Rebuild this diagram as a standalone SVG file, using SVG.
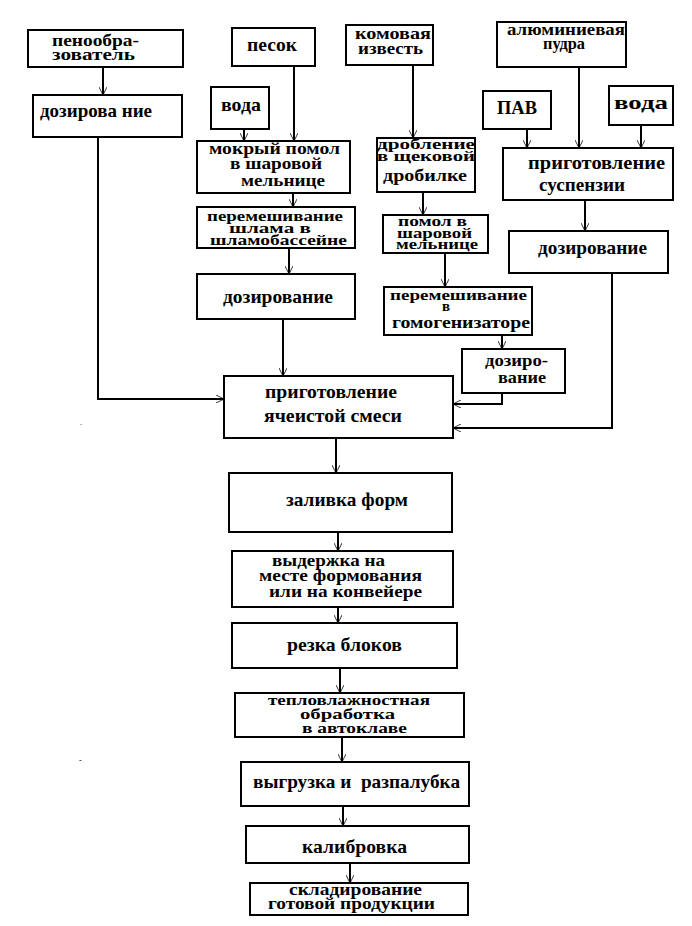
<svg xmlns="http://www.w3.org/2000/svg" width="692" height="926" viewBox="0 0 692 926">
<style>
.b{fill:#fff;stroke:#000;stroke-width:2}
.t{font-family:"Liberation Serif","Times New Roman",serif;font-weight:bold;font-size:19px;fill:#000}
.m{font-size:16px}
.s{font-size:15px}
.c{fill:none;stroke:#000;stroke-width:2}
</style>
<defs>
<marker id="a" viewBox="0 0 10 10" refX="10" refY="5" markerWidth="8" markerHeight="8" markerUnits="userSpaceOnUse" orient="auto">
<path d="M0,0 L10,5 L0,10" fill="none" stroke="#000" stroke-width="1"/>
</marker>
</defs>
<rect width="692" height="926" fill="#fff"/>
<g id="connectors">
<path class="c" d="M103,67 V95" marker-end="url(#a)"/>
<path class="c" d="M98,137 V399 H224" marker-end="url(#a)"/>
<path class="c" d="M244,129 V141" marker-end="url(#a)"/>
<path class="c" d="M294,66 V141" marker-end="url(#a)"/>
<path class="c" d="M293,193 V207" marker-end="url(#a)"/>
<path class="c" d="M289,248 V274" marker-end="url(#a)"/>
<path class="c" d="M283,319 V376" marker-end="url(#a)"/>
<path class="c" d="M413,65 V138" marker-end="url(#a)"/>
<path class="c" d="M423,192 V215" marker-end="url(#a)"/>
<path class="c" d="M445,253 V287" marker-end="url(#a)"/>
<path class="c" d="M502,335 V349" marker-end="url(#a)"/>
<path class="c" d="M502,393 V404 H453" marker-end="url(#a)"/>
<path class="c" d="M527,129 V148" marker-end="url(#a)"/>
<path class="c" d="M579,67 V148" marker-end="url(#a)"/>
<path class="c" d="M641,125 V148" marker-end="url(#a)"/>
<path class="c" d="M585,200 V231" marker-end="url(#a)"/>
<path class="c" d="M612,273 V428 H453" marker-end="url(#a)"/>
<path class="c" d="M336,438 V473" marker-end="url(#a)"/>
<path class="c" d="M338,532 V551" marker-end="url(#a)"/>
<path class="c" d="M338,607 V623" marker-end="url(#a)"/>
<path class="c" d="M340,668 V693" marker-end="url(#a)"/>
<path class="c" d="M342,737 V762" marker-end="url(#a)"/>
<path class="c" d="M343,806 V826" marker-end="url(#a)"/>
<path class="c" d="M350,863 V883" marker-end="url(#a)"/>
</g>
<g id="n_penoobr"><rect class="b" x="28" y="30" width="155" height="37"/>
<text class="t m" x="52" y="46" textLength="87" lengthAdjust="spacingAndGlyphs">пенообра-</text>
<text class="t m" x="52" y="60" textLength="83" lengthAdjust="spacingAndGlyphs">зователь</text></g>
<g id="n_doz1"><rect class="b" x="33" y="95" width="149" height="42"/>
<text class="t" x="40" y="117" textLength="112" lengthAdjust="spacingAndGlyphs" xml:space="preserve">дозирова ние</text></g>
<g id="n_pesok"><rect class="b" x="232" y="28" width="83" height="38"/>
<text class="t" x="247" y="51" textLength="50" lengthAdjust="spacingAndGlyphs">песок</text></g>
<g id="n_voda1"><rect class="b" x="211" y="87" width="58" height="42"/>
<text class="t" x="221" y="111" textLength="40" lengthAdjust="spacingAndGlyphs">вода</text></g>
<g id="n_pomol1"><rect class="b" x="197" y="141" width="153" height="52"/>
<text class="t m" x="209" y="154" textLength="131" lengthAdjust="spacingAndGlyphs">мокрый помол</text>
<text class="t m" x="230" y="169" textLength="92" lengthAdjust="spacingAndGlyphs">в шаровой</text>
<text class="t m" x="241" y="186" textLength="84" lengthAdjust="spacingAndGlyphs">мельнице</text></g>
<g id="n_shlam"><rect class="b" x="197" y="207" width="158" height="41"/>
<text class="t s" x="207" y="221" textLength="136" lengthAdjust="spacingAndGlyphs">перемешивание</text>
<text class="t s" x="229" y="233" textLength="82" lengthAdjust="spacingAndGlyphs">шлама в</text>
<text class="t s" x="210" y="245" textLength="137" lengthAdjust="spacingAndGlyphs">шламобассейне</text></g>
<g id="n_doz2"><rect class="b" x="197" y="274" width="158" height="45"/>
<text class="t" x="223" y="303" textLength="110" lengthAdjust="spacingAndGlyphs">дозирование</text></g>
<g id="n_izvest"><rect class="b" x="346" y="25" width="87" height="40"/>
<text class="t m" x="355" y="39" textLength="76" lengthAdjust="spacingAndGlyphs">комовая</text>
<text class="t m" x="358" y="54" textLength="65" lengthAdjust="spacingAndGlyphs">известь</text></g>
<g id="n_drob"><rect class="b" x="377" y="138" width="98" height="54"/>
<text class="t s" x="377" y="149" textLength="98" lengthAdjust="spacingAndGlyphs">дробление</text>
<text class="t s" x="377" y="161" textLength="98" lengthAdjust="spacingAndGlyphs">в щековой</text>
<text class="t m" x="383" y="181" textLength="84" lengthAdjust="spacingAndGlyphs">дробилке</text></g>
<g id="n_pomol2"><rect class="b" x="383" y="215" width="105" height="38"/>
<text class="t s" x="398" y="226" textLength="69" lengthAdjust="spacingAndGlyphs">помол в</text>
<text class="t s" x="397" y="238" textLength="75" lengthAdjust="spacingAndGlyphs">шаровой</text>
<text class="t s" x="396" y="249" textLength="82" lengthAdjust="spacingAndGlyphs">мельнице</text></g>
<g id="n_gomog"><rect class="b" x="384" y="287" width="148" height="48"/>
<text class="t s" x="390" y="300" textLength="137" lengthAdjust="spacingAndGlyphs">перемешивание</text>
<text class="t s" x="442" y="311">в</text>
<text class="t m" x="392" y="328" textLength="138" lengthAdjust="spacingAndGlyphs">гомогенизаторе</text></g>
<g id="n_doz3"><rect class="b" x="462" y="349" width="103" height="44"/>
<text class="t m" x="485" y="366" textLength="63" lengthAdjust="spacingAndGlyphs">дозиро-</text>
<text class="t m" x="498" y="383" textLength="48" lengthAdjust="spacingAndGlyphs">вание</text></g>
<g id="n_pudra"><rect class="b" x="497" y="22" width="129" height="45"/>
<text class="t m" x="507" y="35" textLength="118" lengthAdjust="spacingAndGlyphs">алюминиевая</text>
<text class="t m" x="543" y="49" textLength="42" lengthAdjust="spacingAndGlyphs">пудра</text></g>
<g id="n_pav"><rect class="b" x="483" y="91" width="68" height="38"/>
<text class="t" x="497" y="114" textLength="40" lengthAdjust="spacingAndGlyphs">ПАВ</text></g>
<g id="n_voda2"><rect class="b" x="609" y="86" width="64" height="39"/>
<text class="t" x="614" y="109" textLength="54" lengthAdjust="spacingAndGlyphs">вода</text></g>
<g id="n_susp"><rect class="b" x="503" y="148" width="170" height="52"/>
<text class="t" x="528" y="169" textLength="137" lengthAdjust="spacingAndGlyphs">приготовление</text>
<text class="t" x="539" y="191" textLength="86" lengthAdjust="spacingAndGlyphs">суспензии</text></g>
<g id="n_doz4"><rect class="b" x="509" y="231" width="159" height="42"/>
<text class="t" x="538" y="254" textLength="109" lengthAdjust="spacingAndGlyphs">дозирование</text></g>
<g id="n_smes"><rect class="b" x="224" y="376" width="229" height="62"/>
<text class="t" x="265" y="398" textLength="132" lengthAdjust="spacingAndGlyphs">приготовление</text>
<text class="t" x="264" y="422" textLength="138" lengthAdjust="spacingAndGlyphs">ячеистой смеси</text></g>
<g id="n_zaliv"><rect class="b" x="229" y="473" width="223" height="59"/>
<text class="t" x="286" y="506" textLength="122" lengthAdjust="spacingAndGlyphs">заливка форм</text></g>
<g id="n_vyderzh"><rect class="b" x="232" y="551" width="221" height="56"/>
<text class="t m" x="272" y="566" textLength="113" lengthAdjust="spacingAndGlyphs">выдержка на</text>
<text class="t m" x="259" y="581" textLength="163" lengthAdjust="spacingAndGlyphs">месте формования</text>
<text class="t m" x="269" y="597" textLength="153" lengthAdjust="spacingAndGlyphs">или на конвейере</text></g>
<g id="n_rezka"><rect class="b" x="232" y="623" width="225" height="45"/>
<text class="t" x="287" y="651" textLength="115" lengthAdjust="spacingAndGlyphs">резка блоков</text></g>
<g id="n_teplo"><rect class="b" x="235" y="693" width="229" height="44"/>
<text class="t s" x="268" y="705" textLength="162" lengthAdjust="spacingAndGlyphs">тепловлажностная</text>
<text class="t s" x="300" y="719" textLength="95" lengthAdjust="spacingAndGlyphs">обработка</text>
<text class="t s" x="302" y="733" textLength="105" lengthAdjust="spacingAndGlyphs">в автоклаве</text></g>
<g id="n_vygruz"><rect class="b" x="241" y="762" width="228" height="44"/>
<text class="t" x="253" y="788" textLength="207" lengthAdjust="spacingAndGlyphs" xml:space="preserve">выгрузка и  разпалубка</text></g>
<g id="n_kalib"><rect class="b" x="246" y="826" width="223" height="37"/>
<text class="t" x="302" y="853" textLength="105" lengthAdjust="spacingAndGlyphs">калибровка</text></g>
<g id="n_sklad"><rect class="b" x="250" y="883" width="218" height="32"/>
<text class="t m" x="289" y="895" textLength="133" lengthAdjust="spacingAndGlyphs">складирование</text>
<text class="t m" x="268" y="909" textLength="167" lengthAdjust="spacingAndGlyphs">готовой продукции</text></g>
<text x="80" y="425" style="font-family:'Liberation Serif',serif;font-size:8px">.</text>
<text x="79" y="763" style="font-family:'Liberation Serif',serif;font-size:8px">-</text>
</svg>
